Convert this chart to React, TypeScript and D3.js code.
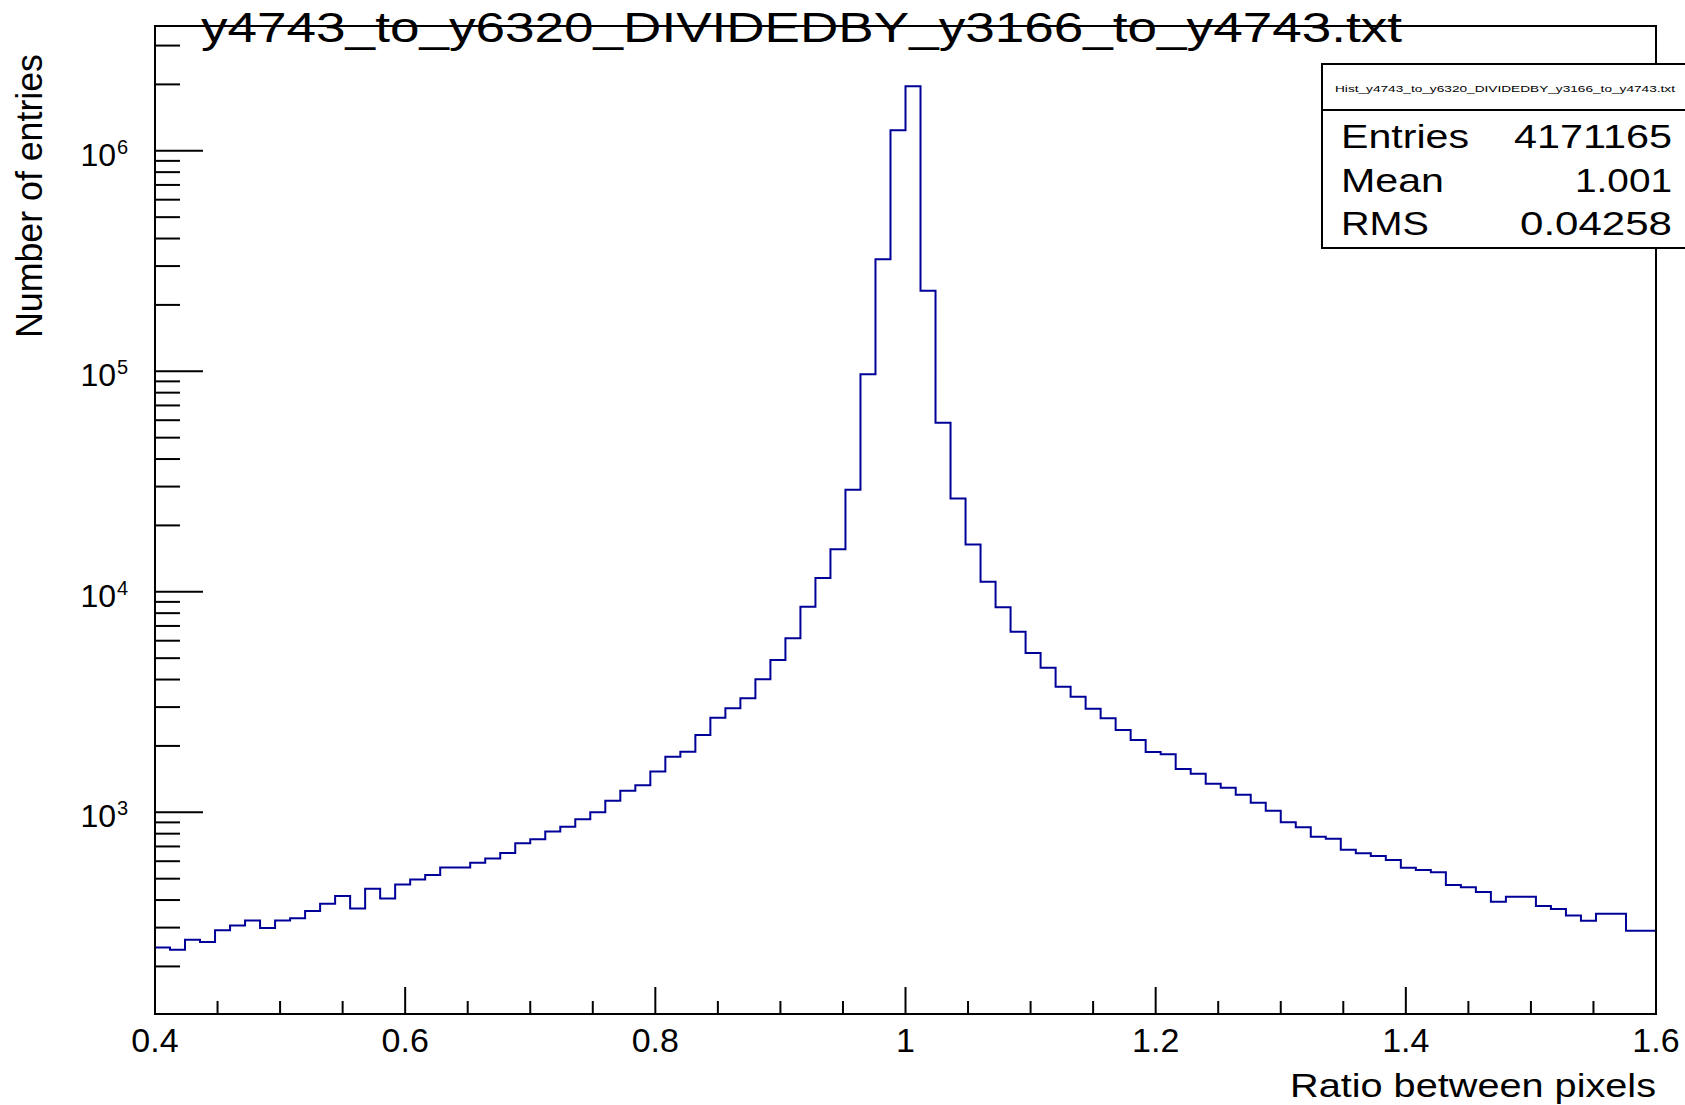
import React from 'react';
import * as d3 from 'd3';

// ---------- data ----------
const binLow = 0.4;
const binHigh = 1.6;
const counts = [
  244, 238, 264, 258, 292, 307, 323, 299, 323, 331,
  357, 385, 417, 366, 450, 406, 471, 496, 519, 562,
  562, 590, 617, 653, 724, 755, 818, 861, 930, 1000,
  1129, 1253, 1325, 1530, 1787, 1883, 2242, 2685, 2963, 3289,
  4010, 4906, 6153, 8558, 11550, 15600, 29000, 97000, 322000, 1240000,
  1960000, 232000, 58500, 26500, 16400, 11100, 8506, 6594, 5278, 4528,
  3712, 3344, 2950, 2669, 2362, 2128, 1877, 1832, 1572, 1497,
  1348, 1293, 1202, 1105, 1017, 901, 855, 775, 759, 677,
  652, 634, 608, 561, 547, 535, 468, 457, 435, 393,
  414, 414, 376, 364, 340, 322, 347, 347, 290, 290,
];
const xMajorTicks = [0.4, 0.6, 0.8, 1.0, 1.2, 1.4, 1.6];
const xTickLabels = ['0.4', '0.6', '0.8', '1', '1.2', '1.4', '1.6'];
const yDecades = [3, 4, 5, 6];
const yDomain = [121.7, 3.68e6];
const title = 'y4743_to_y6320_DIVIDEDBY_y3166_to_y4743.txt';
const statsName = 'Hist_y4743_to_y6320_DIVIDEDBY_y3166_to_y4743.txt';
const statsLabels = ['Entries', 'Mean', 'RMS'];
const statsValues = ['4171165', '1.001', '0.04258'];
const xTitle = 'Ratio between pixels';
const yTitle = 'Number of entries';

// ---------- layout ----------
const W = 1685;
const H = 1105;
const L = 155;
const R = 1656;
const T = 26;
const B = 1014;
const FONT = '"Liberation Sans", Arial, Helvetica, sans-serif';

export default function App() {
  const x = d3.scaleLinear().domain([binLow, binHigh]).range([L, R]);
  const y = d3.scaleLog().domain(yDomain).range([B, T]);
  const bw = (binHigh - binLow) / counts.length;

  const pts: [number, number][] = counts.map((c, i) => [binLow + i * bw, c]);
  pts.push([binHigh, counts[counts.length - 1]]);
  const line = d3
    .line<[number, number]>()
    .x((d) => x(d[0]))
    .y((d) => y(d[1]))
    .curve(d3.curveStepAfter);

  const xMinor = d3
    .range(0, 25)
    .filter((i) => i % 4 !== 0)
    .map((i) => binLow + 0.05 * i);

  const yMinor: number[] = [];
  for (let e = 2; e <= 6; e++) {
    for (let m = 2; m <= 9; m++) {
      const v = m * Math.pow(10, e);
      if (v >= yDomain[0] && v <= yDomain[1]) yMinor.push(v);
    }
  }

  const statsBase = [148, 191.5, 235];
  const statsLabelLen = [128, 103, 88];
  const statsValueLen = [158, 97, 152];

  return (
    <svg
      width={W}
      height={H}
      style={{ position: 'absolute', left: 0, top: 0, background: '#fff' }}
      fontFamily={FONT}
    >
      <rect x={0} y={0} width={W} height={H} fill="#fff" />
      {/* histogram */}
      <path d={line(pts) || ''} fill="none" stroke="#000099" strokeWidth={2} />

      {/* frame */}
      <rect x={L} y={T} width={R - L} height={B - T} fill="none" stroke="#000" strokeWidth={2} />

      {/* x ticks */}
      {xMajorTicks.map((v) => (
        <line key={'xM' + v} x1={x(v)} x2={x(v)} y1={B} y2={B - 27} stroke="#000" strokeWidth={2} />
      ))}
      {xMinor.map((v) => (
        <line key={'xm' + v} x1={x(v)} x2={x(v)} y1={B} y2={B - 13} stroke="#000" strokeWidth={2} />
      ))}
      {xMajorTicks.map((v, i) => (
        <text key={'xl' + v} x={x(v)} y={1052} fontSize={34} textAnchor="middle" fill="#000">
          {xTickLabels[i]}
        </text>
      ))}

      {/* y ticks */}
      {yDecades.map((e) => (
        <line key={'yM' + e} x1={L} x2={L + 48} y1={y(Math.pow(10, e))} y2={y(Math.pow(10, e))} stroke="#000" strokeWidth={2} />
      ))}
      {yMinor.map((v) => (
        <line key={'ym' + v} x1={L} x2={L + 25} y1={y(v)} y2={y(v)} stroke="#000" strokeWidth={2} />
      ))}
      {yDecades.map((e) => (
        <g key={'yl' + e}>
          <text x={116} y={y(Math.pow(10, e)) + 15} fontSize={32} textAnchor="end" fill="#000">
            10
          </text>
          <text x={117} y={y(Math.pow(10, e)) + 3} fontSize={20} fill="#000">
            {String(e)}
          </text>
        </g>
      ))}

      {/* title */}
      <text x={201} y={42} fontSize={42} textLength={1201} lengthAdjust="spacingAndGlyphs" fill="#000">
        {title}
      </text>

      {/* axis titles */}
      <text x={R} y={1097} fontSize={33} textAnchor="end" textLength={366} lengthAdjust="spacingAndGlyphs" fill="#000">
        {xTitle}
      </text>
      <text
        transform={`translate(42,54) rotate(-90)`}
        fontSize={37}
        textAnchor="end"
        textLength={284}
        lengthAdjust="spacingAndGlyphs"
        fill="#000"
      >
        {yTitle}
      </text>

      {/* stats box */}
      <rect x={1322} y={64} width={400} height={184} fill="#fff" stroke="#000" strokeWidth={2} />
      <line x1={1322} x2={W} y1={110} y2={110} stroke="#000" strokeWidth={2} />
      <text x={1335} y={92} fontSize={9} textLength={340} lengthAdjust="spacingAndGlyphs" fill="#000">
        {statsName}
      </text>
      {statsLabels.map((s, i) => (
        <g key={s}>
          <text x={1341} y={statsBase[i]} fontSize={34} textLength={statsLabelLen[i]} lengthAdjust="spacingAndGlyphs" fill="#000">
            {s}
          </text>
          <text x={1672} y={statsBase[i]} fontSize={34} textAnchor="end" textLength={statsValueLen[i]} lengthAdjust="spacingAndGlyphs" fill="#000">
            {statsValues[i]}
          </text>
        </g>
      ))}
    </svg>
  );
}
